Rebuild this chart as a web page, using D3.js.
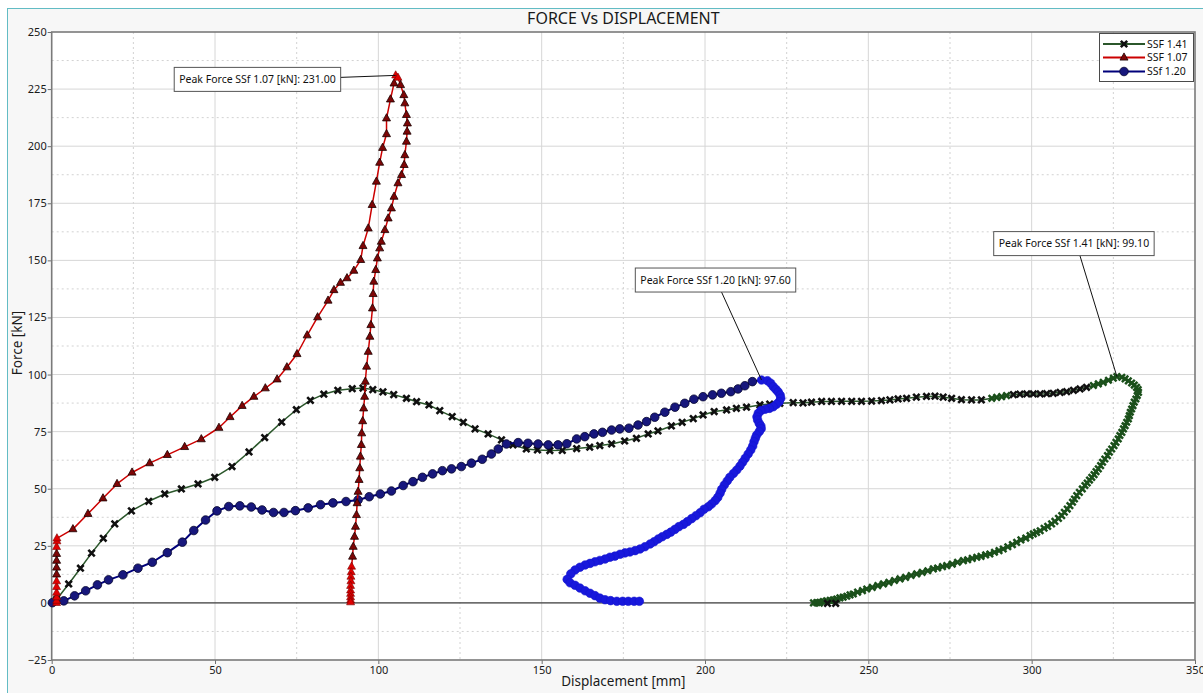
<!DOCTYPE html>
<html>
<head>
<meta charset="utf-8">
<script src="https://cdn.jsdelivr.net/npm/d3@7"></script>
<style>
  html, body { margin: 0; padding: 0; background: #ffffff; }
  svg { display: block; font-family: "Noto Sans", "Open Sans", sans-serif; }
</style>
</head>
<body>
<svg id="chart" width="1203" height="693"></svg>
<script>
// ---- Data: displacement [mm], force [kN] ----
const chartTitle = "FORCE Vs DISPLACEMENT";
const xAxisTitle = "Displacement [mm]";
const yAxisTitle = "Force [kN]";
const xTickValues = [0, 50, 100, 150, 200, 250, 300, 350];
const yTickValues = [-25, 0, 25, 50, 75, 100, 125, 150, 175, 200, 225, 250];
const seriesNames = ["SSF 1.41", "SSF 1.07", "SSf 1.20"];

const ssf141 = [
  [1.5,1.5],[5.2,8.3],[8.8,15.2],[12.2,21.8],[15.8,28.3],[19.3,34.6],[24.4,40.3],[29.7,44.5],[34.6,47.7],
  [39.7,49.9],[44.8,52.1],[49.9,55.0],[55.2,59.7],[60.4,66.1],[65.2,72.4],[70.4,79.2],[74.9,84.6],[79.2,88.7],
  [83.3,91.4],[87.6,93.1],[92.0,93.8],[95.3,94.1],[98.3,93.4],[101.4,92.4],[104.7,91.2],[108.6,89.6],[111.7,88.1],
  [115.5,86.7],[118.8,84.2],[122.6,81.6],[126.0,79.1],[129.6,76.2],[133.6,74.0],[137.7,71.4],[141.2,69.2],
  [145.3,67.4],[148.7,67.0],[152.5,66.7],[156.3,66.8],[160.7,67.6],[164.7,68.2],[167.8,68.9],[171.4,69.6],
  [175.4,70.9],[179.0,72.1],[182.6,74.0],[185.6,75.3],[189.7,77.5],[193.0,79.1],[196.4,80.7],[199.4,82.3],
  [202.8,83.8],[206.6,84.5],[209.6,85.2],[212.7,85.7],[216.8,86.7],[219.8,87.1],[222.9,87.4],[227.0,87.7],
  [230.0,87.6],[232.6,87.9],[235.7,88.2],[238.7,88.2],[241.8,88.3],[244.9,88.3],[247.9,88.3],[251.0,88.4],
  [254.0,88.6],[256.6,88.9],[259.1,89.3],[261.7,89.6],[264.7,90.1],[267.8,90.4],[270.4,90.5],[272.9,90.1],
  [275.5,89.6],[278.5,89.0],[281.6,88.9],[284.6,88.9],
  [287.8,89.6],[289.3,90.0],[290.8,90.3],[292.3,90.8],[294.4,91.2],[296.4,91.4],[298.5,91.5],[300.5,91.5],
  [302.6,91.5],[304.6,91.6],[306.6,91.8],[308.7,92.2],[310.7,92.5],[312.8,93.1],[314.8,93.7],[316.8,94.4],
  [318.9,95.2],[320.4,95.9],[321.9,96.6],[323.5,97.5],[325.0,98.4],[326.1,99.1],
  [327.6,98.8],[328.6,98.1],[329.6,97.2],[330.6,96.3],[331.4,95.4],[332.1,94.4],[332.6,93.4],[332.7,92.2],
  [332.3,90.8],[331.9,89.3],[331.4,87.9],[331.0,86.4],[330.6,84.9],[330.2,83.5],[329.9,82.0],[329.6,80.6],
  [329.1,79.1],[328.6,77.6],[328.1,76.2],[327.6,74.7],[327.0,73.3],[326.5,71.8],[325.8,70.3],[325.2,68.9],
  [324.5,67.4],[323.8,66.0],[323.2,64.5],[322.4,63.0],[321.7,61.6],[321.1,60.1],[320.4,58.7],[319.7,57.5],
  [319.1,56.2],[318.4,55.0],[317.7,53.8],[317.0,52.5],[316.3,51.4],[315.5,49.9],[314.6,48.4],[313.8,47.0],
  [313.1,45.5],[312.5,44.1],[311.7,42.6],[310.9,41.1],[310.0,39.7],[309.2,38.2],[308.2,37.0],[307.1,35.7],
  [306.1,34.6],[304.9,33.5],[303.8,32.7],[302.6,31.6],[301.5,30.9],[300.5,30.2],[299.5,29.5],[298.2,28.4],
  [296.7,27.6],[295.4,26.5],[294.1,25.5],[292.7,24.6],[291.3,23.6],[290.0,22.9],[288.6,22.2],[287.2,21.4],
  [285.9,21.0],[284.5,20.4],[283.2,20.0],[281.8,19.5],[280.4,18.9],[279.1,18.5],[277.3,17.8],[275.7,17.0],
  [274.0,16.3],[272.7,15.9],[271.2,15.3],[269.9,14.9],[268.2,14.1],[266.5,13.4],[264.8,12.7],[263.1,12.0],
  [261.4,11.2],[259.7,10.5],[258.0,9.8],[256.3,9.0],[254.6,8.3],[252.9,7.6],[251.2,6.8],[249.5,6.1],
  [248.2,5.4],[246.7,4.7],[245.4,3.9],[244.4,3.5],[243.4,2.9],[242.3,2.5],[241.3,2.2],[240.3,1.7],
  [239.3,1.4],[238.3,1.1],[237.2,0.9],[236.2,0.6],[235.2,0.3],[234.2,0.1],[233.2,0.0],
  [235.0,-0.1],[237.5,-0.2],[240.0,-0.2]
];

const ssf107 = [
  [1.5,0],[1.5,1],[1.5,2.5],[1.5,4.5],[1.5,7],[1.5,9.5],[1.5,12.5],[1.5,15.5],[1.5,18.5],[1.5,21.5],
  [1.5,24.5],[1.6,27],[1.6,28.3],
  [6.5,32.3],[11.1,39.0],[15.7,45.8],[20.0,52.1],[24.6,57.1],[30.0,61.2],[35.4,64.8],[40.7,68.3],[45.8,71.7],
  [51.2,76.7],[54.6,81.4],[58.3,86.3],[61.9,90.3],[65.4,94.0],[69.0,97.9],[72.0,103.2],[75.1,109.0],
  [78.2,117.2],[81.4,125.1],[84.6,132.4],[86.4,137.0],[88.4,140.2],[90.4,142.2],[92.5,145.5],[94.6,150.2],
  [95.3,156.3],[96.9,164.0],[98.1,174.3],[99.4,184.5],[100.4,192.8],[101.3,199.3],[102.5,205.3],[102.5,212.2],
  [103.7,220.5],[104.8,227.5],[105.3,231.0],
  [106.0,230.0],[106.8,226.8],[107.8,222.4],[108.1,218.8],[108.6,213.7],[108.9,210.0],[108.8,206.4],
  [108.6,202.0],[108.1,196.1],[107.9,191.8],[107.1,187.4],[106.0,183.8],[104.8,177.9],[104.0,172.8],
  [103.0,168.4],[102.0,163.3],[100.9,158.2],[100.4,155.3],[99.7,150.9],[99.2,145.8],[98.6,140.7],[98.4,135.3],
  [98.2,129.0],[97.7,121.7],[97.4,116.6],[96.9,110.0],[96.4,103.5],[96.0,96.9],[95.8,90.3],[95.5,85.2],
  [95.2,79.6],[94.9,74.3],[94.8,69.2],[94.5,64.1],[94.3,59.0],[94.1,53.9],[93.8,48.7],[93.5,43.7],[93.3,38.5],
  [93.0,33.4],[92.7,29.0],[92.3,24.6],[92.1,20.3],[91.8,15.9],[91.7,13.5],[91.6,11.5],[91.6,9.5],[91.5,7.5],
  [91.5,5.5],[91.5,4.0],[91.5,2.5],[91.5,1.2],[91.5,0.3]
];

const ssf120 = [
  [0.2,0.1],[3.7,0.9],[7.0,3.1],[10.4,5.3],[14.0,7.9],[17.4,10.1],[21.8,12.3],[26.4,15.2],[30.8,17.8],
  [35.4,22.0],[40.0,26.6],[43.5,31.7],[47.1,36.3],[50.6,40.3],[54.2,42.2],[57.6,42.5],[61.1,42.0],[64.4,40.7],
  [67.9,39.6],[71.1,39.6],[74.6,40.4],[78.5,41.6],[82.3,43.0],[86.1,43.8],[90.1,44.4],[93.8,45.1],[97.2,46.5],
  [100.6,47.7],[104.0,49.0],[107.6,51.4],[110.6,53.1],[113.5,55.0],[116.6,56.5],[119.6,57.9],[122.4,58.7],
  [125.4,59.7],[128.5,61.2],[131.8,62.9],[134.6,65.2],[136.7,67.4],[139.2,69.6],[142.8,70.2],[145.8,69.9],
  [148.9,69.6],[152.0,69.2],[155.0,69.2],[157.7,69.7],[160.7,71.8],[163.2,72.8],[166.0,74.0],[168.6,74.7],
  [171.4,75.7],[173.9,76.2],[176.7,76.5],[179.5,77.9],[182.1,79.4],[184.6,81.3],[187.7,83.5],[190.8,85.7],
  [193.8,87.4],[196.6,89.2],[199.4,90.3],[202.3,91.1],[205.0,91.8],[207.9,92.5],[210.1,93.7],[212.2,95.1],
  [214.5,96.9],[217.3,97.6],
  [219.1,97.3],[220.1,96.2],[220.9,94.7],[221.7,93.5],[222.4,92.4],[223.0,91.0],[223.2,89.6],[222.7,88.1],
  [221.9,87.0],[220.9,85.9],[219.7,85.2],[218.4,84.8],[217.1,84.2],[216.3,83.0],[215.9,81.5],[216.1,80.1],
  [216.6,78.6],[217.1,77.5],[217.2,76.3],[216.6,75.0],[215.8,73.5],[215.4,72.1],[215.0,70.6],[214.6,68.7],
  [214.0,67.0],[213.2,65.2],[212.3,63.3],[211.5,61.6],[210.7,59.9],[209.7,58.2],[208.7,56.7],[207.6,55.0],
  [206.8,53.4],[205.9,51.6],[205.1,49.7],[204.6,48.0],[203.9,46.2],[203.1,44.8],[202.0,43.3],[201.0,42.1],
  [199.7,41.0],[198.5,39.5],[197.2,38.2],[195.9,36.9],[194.6,35.6],[193.4,34.4],[192.0,33.4],[190.8,32.2],
  [189.5,31.0],[188.3,30.0],[186.9,29.0],[185.7,28.0],[184.4,26.8],[183.2,25.8],[181.6,24.6],[180.1,23.6],
  [178.6,22.9],[177.0,22.3],[175.5,21.9],[174.0,21.3],[172.4,20.5],[170.9,20.0],[169.4,19.2],[167.8,18.6],
  [166.3,18.0],[164.8,17.3],[163.3,16.6],[161.7,15.6],[160.2,14.4],[158.9,12.7],[157.8,10.3],[158.7,8.8],
  [160.2,7.7],[161.7,6.5],[163.3,5.3],[164.8,4.2],[166.3,3.2],[167.8,2.1],[169.4,1.4],[171.1,1.0],
  [173.0,0.7],[174.8,0.7],[176.5,0.7],[178.3,0.7],[179.9,0.7]
];

// Peak callouts, in legend order
const peakLabels = ["Peak Force SSf 1.41 [kN]: 99.10", "Peak Force SSf 1.07 [kN]: 231.00", "Peak Force SSf 1.20 [kN]: 97.60"];
const peakPoints = [[326.1, 99.1], [105.3, 231.0], [217.3, 97.6]];

// ---- Layout ----
const W = 1203, H = 693;
const plot = { left: 51.7, right: 1195, top: 32, bottom: 660 };

const svg = d3.select("#chart");
const x = d3.scaleLinear().domain([0, 350]).range([plot.left, plot.right]);
const y = d3.scaleLinear().domain([-25, 250]).range([plot.bottom, plot.top]);

// chart frame and backgrounds
svg.append("rect").attr("x", 7.5).attr("y", 8.5).attr("width", W).attr("height", H)
  .attr("fill", "#f7f7f7").attr("stroke", "#62bcc4").attr("stroke-width", 1);
svg.append("rect").attr("x", plot.left).attr("y", plot.top)
  .attr("width", plot.right - plot.left).attr("height", plot.bottom - plot.top)
  .attr("fill", "#ffffff");

// grid: minor dotted, major solid
const grid = svg.append("g");
const xMinor = d3.range(25, 350, 50);
const yMinor = d3.range(-12.5, 250, 25);
grid.selectAll(".xm").data(xMinor).join("line")
  .attr("x1", d => x(d)).attr("x2", d => x(d)).attr("y1", plot.top).attr("y2", plot.bottom)
  .attr("stroke", "#d2d2d2").attr("stroke-dasharray", "2,3").attr("stroke-width", 1);
grid.selectAll(".ym").data(yMinor).join("line")
  .attr("y1", d => y(d)).attr("y2", d => y(d)).attr("x1", plot.left).attr("x2", plot.right)
  .attr("stroke", "#d2d2d2").attr("stroke-dasharray", "2,3").attr("stroke-width", 1);
grid.selectAll(".xM").data(xTickValues.slice(1, -1)).join("line")
  .attr("x1", d => x(d)).attr("x2", d => x(d)).attr("y1", plot.top).attr("y2", plot.bottom)
  .attr("stroke", "#d6d6d6").attr("stroke-width", 1);
grid.selectAll(".yM").data(yTickValues.slice(1, -1)).join("line")
  .attr("y1", d => y(d)).attr("y2", d => y(d)).attr("x1", plot.left).attr("x2", plot.right)
  .attr("stroke", "#d6d6d6").attr("stroke-width", 1);

// zero line
svg.append("line").attr("x1", plot.left).attr("x2", plot.right)
  .attr("y1", y(0)).attr("y2", y(0)).attr("stroke", "#1a1a1a").attr("stroke-width", 1);

// axes
const xAxis = svg.append("g").attr("transform", `translate(0,${plot.bottom})`)
  .call(d3.axisBottom(x).tickValues(xTickValues).tickSize(4).tickPadding(2));
const yAxis = svg.append("g").attr("transform", `translate(${plot.left},0)`)
  .call(d3.axisLeft(y).tickValues(yTickValues).tickSize(4).tickPadding(1));
[xAxis, yAxis].forEach(a => {
  a.select(".domain").remove();
  a.selectAll(".tick line").attr("stroke", "#6e6e6e");
  a.selectAll(".tick text").attr("fill", "#1a1a1a")
    .style("font-family", "'Noto Sans', sans-serif").style("font-size", "11px");
});

// plot frame
svg.append("rect").attr("x", plot.left).attr("y", plot.top)
  .attr("width", plot.right - plot.left).attr("height", plot.bottom - plot.top)
  .attr("fill", "none").attr("stroke", "#7a7a7a").attr("stroke-width", 1.6);

// titles
svg.append("text").attr("x", (plot.left + plot.right) / 2).attr("y", 23.5)
  .attr("text-anchor", "middle").attr("font-size", 16).attr("fill", "#1a1a1a").text(chartTitle);
svg.append("text").attr("x", (plot.left + plot.right) / 2).attr("y", 686)
  .attr("text-anchor", "middle").attr("font-size", 13.5).attr("fill", "#1a1a1a").text(xAxisTitle);
svg.append("text").attr("transform", "translate(21.5,343) rotate(-90)")
  .attr("text-anchor", "middle").attr("font-size", 13.5).attr("fill", "#1a1a1a").text(yAxisTitle);

// ---- Series ----
const markerPaths = {
  cross: "M-3.2,-3.2L3.2,3.2M-3.2,3.2L3.2,-3.2",
  triangle: "M0,-4.6L4,2.6L-4,2.6Z",
  circle: d3.symbol(d3.symbolCircle, 58)()
};

// markers packed tighter than denseGap px take the brighter "dense" look
const denseGap = 6.5;
const styles = [
  { data: ssf141, line: "#2b572b", lineWidth: 1.5, marker: "cross",
    sparse: { fill: "none", stroke: "#101010", width: 2.6 },
    dense:  { fill: "none", stroke: "#1b501b", width: 2.5 } },
  { data: ssf107, line: "#cc0000", lineWidth: 1.5, marker: "triangle",
    sparse: { fill: "#7d0606", stroke: "#1a0000", width: 0.8 },
    dense:  { fill: "#e00000", stroke: "#7a0000", width: 0.6 } },
  { data: ssf120, line: "#00007a", lineWidth: 2, marker: "circle",
    sparse: { fill: "#17177c", stroke: "#06062e", width: 0.8 },
    dense:  { fill: "#1818dc", stroke: "#1414cc", width: 0.6 } }
];

const lineGen = d3.line().x(d => x(d[0])).y(d => y(d[1]));
const drawOrder = [0, 2, 1];

drawOrder.forEach(i => {
  const s = styles[i];
  const g = svg.append("g");
  g.append("path").datum(s.data).attr("d", lineGen)
    .attr("fill", "none").attr("stroke", s.line).attr("stroke-width", s.lineWidth)
    .attr("stroke-linejoin", "round");
  const px = s.data.map(d => [x(d[0]), y(d[1])]);
  const dense = px.map((p, k) => {
    const a = k > 0 ? Math.hypot(p[0] - px[k - 1][0], p[1] - px[k - 1][1]) : Infinity;
    const b = k < px.length - 1 ? Math.hypot(p[0] - px[k + 1][0], p[1] - px[k + 1][1]) : Infinity;
    return Math.min(a, b) < denseGap;
  });
  g.selectAll("path.m").data(s.data).join("path").attr("class", "m")
    .attr("transform", d => `translate(${x(d[0])},${y(d[1])})`)
    .attr("d", markerPaths[s.marker])
    .attr("fill", (d, k) => (dense[k] ? s.dense : s.sparse).fill)
    .attr("stroke", (d, k) => (dense[k] ? s.dense : s.sparse).stroke)
    .attr("stroke-width", (d, k) => (dense[k] ? s.dense : s.sparse).width);
});

// ---- Peak callouts ----
// box offset from the peak point and which edge the leader leaves from
const callouts = [
  { dx: -43, dy: -121, side: "bottom" },
  { dx: -55, dy: 4, side: "right" },
  { dx: -46, dy: -88, side: "bottom" }
];
callouts.forEach((c, i) => {
  const pxp = x(peakPoints[i][0]), pyp = y(peakPoints[i][1]);
  const g = svg.append("g");
  const t = g.append("text").attr("font-size", 10.5).attr("fill", "#111").text(peakLabels[i]);
  const tw = t.node().getComputedTextLength();
  const bw = tw + 10, bh = 24;
  let bx, by, ax, ay;
  if (c.side === "bottom") {
    bx = pxp + c.dx - bw / 2; by = pyp + c.dy - bh;
    ax = bx + bw / 2 + 6; ay = by + bh;
  } else {
    bx = pxp + c.dx - bw; by = pyp + c.dy - bh / 2;
    ax = bx + bw; ay = by + bh / 2 - 2;
  }
  g.insert("line", "text").attr("x1", ax).attr("y1", ay).attr("x2", pxp).attr("y2", pyp)
    .attr("stroke", "#111").attr("stroke-width", 1);
  g.insert("rect", "text").attr("x", bx).attr("y", by).attr("width", bw).attr("height", bh)
    .attr("fill", "#ffffff").attr("stroke", "#555").attr("stroke-width", 1);
  t.attr("x", bx + bw / 2).attr("y", by + bh / 2 + 3.8).attr("text-anchor", "middle");
});

// ---- Legend ----
const legend = svg.append("g");
legend.append("rect").attr("x", 1099.5).attr("y", 33.5).attr("width", 94).attr("height", 48)
  .attr("fill", "#ffffff").attr("stroke", "#4a4a4a").attr("stroke-width", 1);
const legendRows = [44, 57.5, 71.5];
styles.forEach((s, i) => {
  const ly = legendRows[i];
  legend.append("line").attr("x1", 1103).attr("x2", 1145).attr("y1", ly).attr("y2", ly)
    .attr("stroke", s.line).attr("stroke-width", 2);
  legend.append("path").attr("transform", `translate(1124,${ly})`).attr("d", markerPaths[s.marker])
    .attr("fill", s.sparse.fill).attr("stroke", s.sparse.stroke).attr("stroke-width", s.sparse.width);
  legend.append("text").attr("x", 1147).attr("y", ly + 3.8).attr("font-size", 10.5)
    .attr("fill", "#111").text(seriesNames[i]);
});
</script>
</body>
</html>
